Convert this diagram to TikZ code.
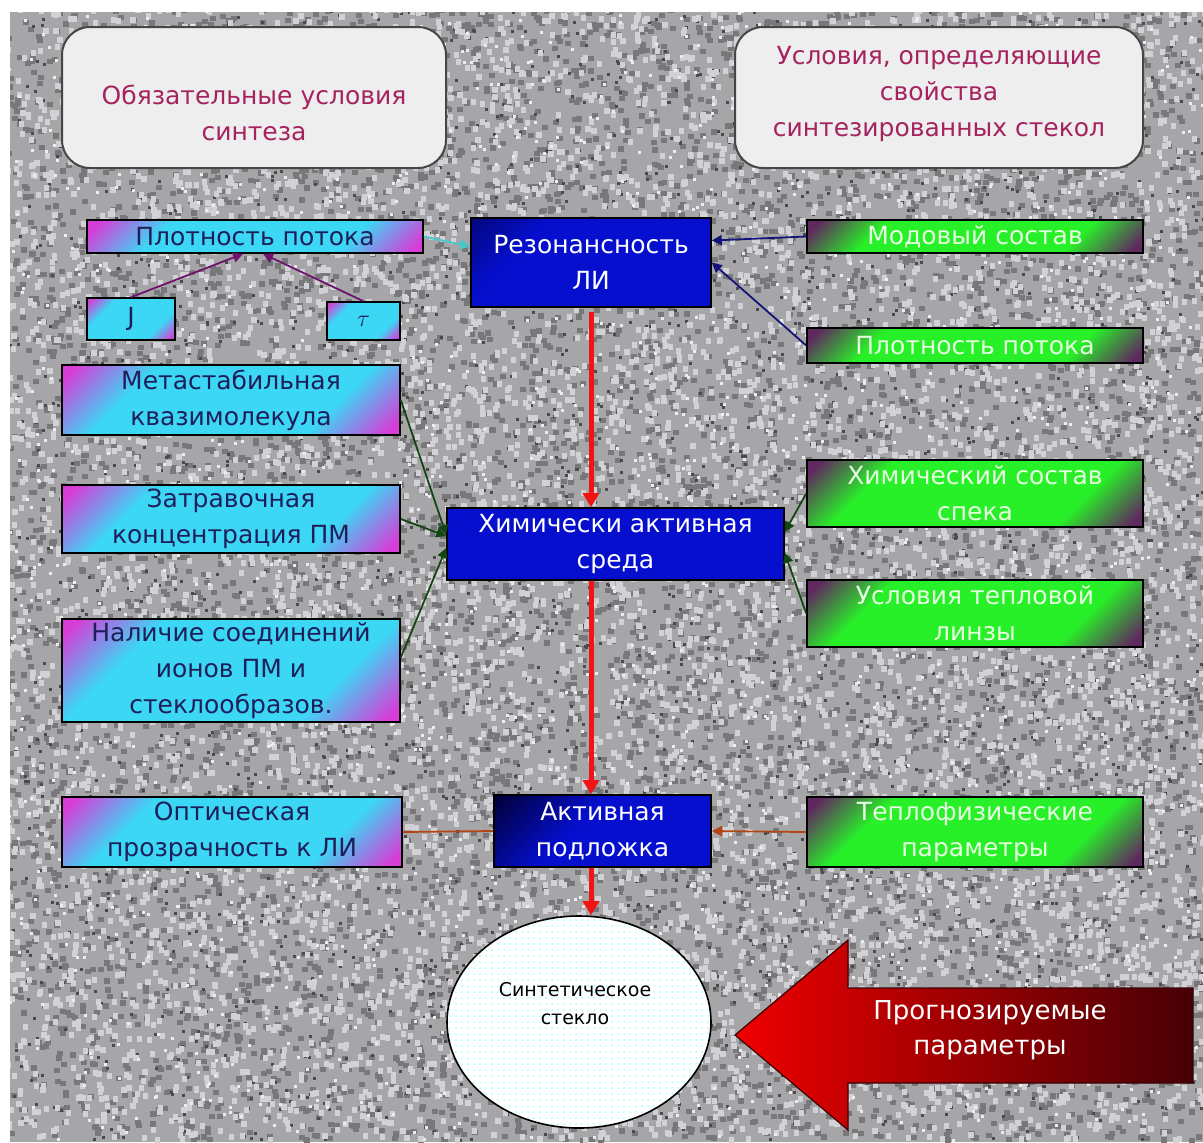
\documentclass[tikz,border=0pt]{standalone}
\usepackage{fontspec}
\setmainfont{DejaVu Sans}
\usetikzlibrary{arrows.meta,shapes.geometric,fit,patterns}

\definecolor{pmag}{RGB}{215,60,215}
\definecolor{pcyan}{RGB}{60,215,245}
\definecolor{gdark}{RGB}{95,40,95}
\definecolor{ggreen}{RGB}{40,240,40}
\definecolor{bnavy}{RGB}{0,0,60}
\definecolor{bblue}{RGB}{5,15,205}
\definecolor{ltext}{RGB}{30,30,90}
\definecolor{gtext}{RGB}{230,255,225}
\definecolor{ttext}{RGB}{165,35,95}
\definecolor{tfill}{RGB}{238,238,238}
\definecolor{tdraw}{RGB}{70,70,70}
\definecolor{bgbase}{RGB}{166,166,169}
\definecolor{bgdark}{RGB}{120,120,123}
\definecolor{bgdarker}{RGB}{75,75,78}
\definecolor{bglight}{RGB}{210,210,214}
\definecolor{bgwhite}{RGB}{236,236,240}
\definecolor{cpurple}{RGB}{110,20,110}
\definecolor{ccyan}{RGB}{70,200,200}
\definecolor{cnavy}{RGB}{20,20,120}
\definecolor{cgreen}{RGB}{20,70,20}
\definecolor{cbrown}{RGB}{180,70,20}
\definecolor{cred}{RGB}{240,20,20}
\definecolor{arL}{RGB}{240,0,0}
\definecolor{arM}{RGB}{195,0,0}
\definecolor{arR}{RGB}{70,0,5}

\pgfdeclareverticalshading{magcyan}{100bp}{color(0bp)=(pmag); color(17bp)=(pmag); color(31bp)=(pcyan); color(69bp)=(pcyan); color(83bp)=(pmag); color(100bp)=(pmag)}
\pgfdeclareverticalshading{greenish}{100bp}{color(0bp)=(gdark); color(17bp)=(gdark); color(30bp)=(ggreen); color(70bp)=(ggreen); color(83bp)=(gdark); color(100bp)=(gdark)}
\pgfdeclareverticalshading{bluish}{100bp}{color(0bp)=(bblue); color(58bp)=(bblue); color(84bp)=(bnavy); color(100bp)=(bnavy)}
\pgfdeclareverticalshading{bluishlight}{100bp}{color(0bp)=(bblue); color(68bp)=(bblue); color(90bp)=(bnavy!70!bblue); color(100bp)=(bnavy!70!bblue)}

% granite speckles: colour, count, width, height (basic layer, y in pt, down = negative)
\newcommand\grspeck[4]{%
  \begin{scope}
    \pgfsetfillcolor{#1}%
    \foreach \i in {1,...,#2}{%
      \pgfmathsetmacro\rx{3+598.5*rnd}%
      \pgfmathsetmacro\ry{-4-567.5*rnd}%
      \pgfpathrectangle{\pgfpoint{\rx pt}{\ry pt}}{\pgfqpoint{#3}{#4}}%
      \pgfusepath{fill}}%
  \end{scope}}

\newcommand\dfont{\fontsize{12.5}{18}\selectfont}

\tikzset{
  base/.style={inner sep=0pt, align=center, font=\dfont, draw=black, line width=0.8pt},
  lbox/.style={base, shading=magcyan, shading angle=45, text=ltext},
  gbox/.style={base, shading=greenish, shading angle=45, text=gtext},
  bbox/.style={base, shading=bluish, shading angle=45, text=white},
  tbox/.style={inner sep=0pt, rounded corners=14pt, fill=tfill, draw=tdraw, line width=1pt},
  ttxt/.style={align=center, font=\dfont, text=ttext, inner sep=0pt},
  thin/.style={line width=0.9pt, -{Triangle[length=5pt,width=5pt]}},
  redarrow/.style={draw=cred, line width=2.5pt, -{Triangle[length=7pt,width=8pt]}},
}

\begin{document}
\begin{tikzpicture}[x=0.5pt,y=-0.5pt]
\useasboundingbox (0,0) rectangle (1203,1142);
\fill[white] (0,0) rectangle (1203,1142);
\begin{scope}
  \clip (10,12) rectangle (1203,1142);
  \fill[bgbase] (10,12) rectangle (1203,1142);
  \pgfmathsetseed{7}
  \grspeck{bgdark}{8000}{3pt}{2.6pt}
  \grspeck{bgdarker}{2500}{1.5pt}{1.5pt}
  \grspeck{bglight}{8000}{2.6pt}{3pt}
  \grspeck{bgwhite}{2000}{1.5pt}{1.5pt}
\end{scope}

% header boxes
\node[tbox, fit={(62,27) (446,168)}] (tl) {};
\node[ttxt] (tltxt) at (254,113) {Обязательные условия\\синтеза};
\node[tbox, fit={(735,27) (1143,168)}] (tr) {};
\node[ttxt] (trtxt) at (939,94) {Условия, определяющие\\свойства\\синтезированных стекол};

% left column
\node[lbox, minimum width=168pt, minimum height=16.5pt] (pl1) at (255,236.5) {Плотность потока};
\node[lbox, minimum width=44pt, minimum height=21pt] (J) at (131,319) {J};
\node[lbox, minimum width=36.5pt, minimum height=19pt] (tau) at (363.5,321) {$\tau$};
\node[lbox, minimum width=169pt, minimum height=35pt] (meta) at (231,400) {Метастабильная\\квазимолекула};
\node[lbox, minimum width=169pt, minimum height=34pt] (zatr) at (231,519) {Затравочная\\концентрация ПМ};
\node[lbox, minimum width=169pt, minimum height=51.5pt] (nal) at (231,670.5) {Наличие соединений\\ионов ПМ и\\стеклообразов.};
\node[lbox, minimum width=170pt, minimum height=35pt] (opt) at (232,832) {Оптическая\\прозрачность к ЛИ};

% center column
\node[bbox, shading=bluishlight, minimum width=120pt, minimum height=44.5pt] (rez) at (591,262.5) {Резонансность\\ЛИ};
\node[base, fill=bblue, text=white, minimum width=168.5pt, minimum height=36pt] (chem) at (615.5,544) {Химически активная\\среда};
\node[bbox, minimum width=108.5pt, minimum height=36pt] (akt) at (602.5,831) {Активная\\подложка};
\node[ellipse, draw=black, line width=0.8pt, preaction={fill=white}, pattern=dots, pattern color=cyan!35, minimum width=132pt, minimum height=106pt, inner sep=0pt] (ell) at (579,1022) {};
\node[font=\fontsize{9.5}{14}\selectfont, align=center, inner sep=0pt] (elltxt) at (575,1004) {Синтетическое\\стекло};

% right column
\node[gbox, minimum width=168pt, minimum height=16.5pt] (mod) at (975,236.5) {Модовый состав};
\node[gbox, minimum width=168pt, minimum height=17.5pt] (pl2) at (975,345.5) {Плотность потока};
\node[gbox, minimum width=168pt, minimum height=33.5pt] (chs) at (975,493.5) {Химический состав\\спека};
\node[gbox, minimum width=168pt, minimum height=33.5pt] (usl) at (975,613.5) {Условия тепловой\\линзы};
\node[gbox, minimum width=168pt, minimum height=35pt] (tepl) at (975,832) {Теплофизические\\параметры};

% big arrow
\shade[left color=arL, middle color=arM, right color=arR, draw=arR!80!black, line width=0.6pt]
  (735,1035) -- (848,940) -- (848,988) -- (1193,988) -- (1193,1083) -- (848,1083) -- (848,1130) -- cycle;
\node[font=\fontsize{13}{17.5}\selectfont, text=white, align=center, inner sep=0pt] (prog) at (990,1030) {Прогнозируемые\\параметры};

% connectors
\draw[thin, cpurple] (J.north) -- ([xshift=-6pt]pl1.south);
\draw[thin, cpurple] (tau.north) -- ([xshift=4pt]pl1.south);
\draw[thin, ccyan] (pl1.east) -- ([yshift=8pt]rez.west);
\draw[thin, cnavy] (mod.west) -- ([yshift=11pt]rez.east);
\draw[thin, cnavy] (pl2.west) -- (rez.east);
\draw[thin, cgreen] (meta.east) -- ([yshift=4.5pt]chem.west);
\draw[thin, cgreen] (zatr.east) -- ([yshift=4pt]chem.west);
\draw[thin, cgreen] ([yshift=6.5pt]nal.east) -- ([yshift=-2pt]chem.west);
\draw[thin, cgreen] (chs.west) -- ([yshift=6pt]chem.east);
\draw[thin, cgreen] (usl.west) -- ([yshift=-4.5pt]chem.east);
\draw[thin, cbrown] (tepl.west) -- (akt.east);
\draw[line width=0.9pt, cbrown] (akt.west) -- (opt.east);

\draw[redarrow] ([yshift=-2pt]rez.south) -- (rez.south |- chem.north);
\draw[redarrow] (rez.south |- chem.south) -- (rez.south |- akt.north);
\draw[redarrow] (rez.south |- akt.south) -- (rez.south |- ell.north);
\end{tikzpicture}
\end{document}
